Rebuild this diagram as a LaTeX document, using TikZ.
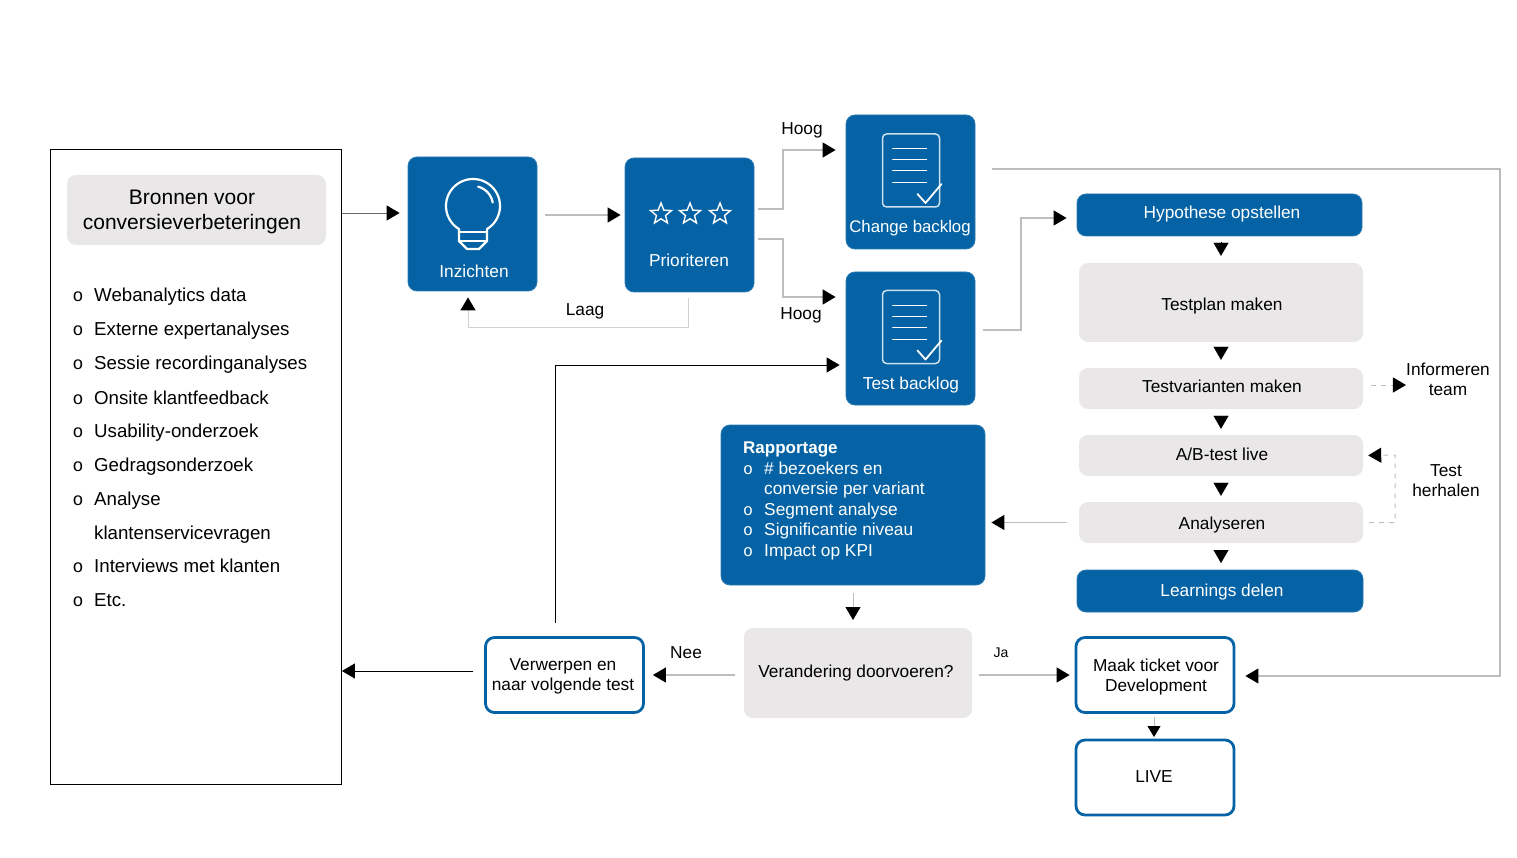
\documentclass[tikz,border=0pt]{standalone}
\usepackage{fontspec}
\setmainfont{Liberation Sans}
\newfontfamily\bulletfont{Liberation Mono}
\usetikzlibrary{arrows.meta}
\usetikzlibrary{shapes.geometric}
\definecolor{blauw}{HTML}{0563A5}
\definecolor{grijs}{HTML}{E9E7E8}
\definecolor{lijn}{HTML}{BDBDBD}
\tikzset{
    bluebox/.style={draw=blauw!85!white,fill=blauw,rounded corners=9pt,line width=0.8pt,inner sep=0pt,text=white,font=\fontsize{17.3}{20}\selectfont},
    greybox/.style={fill=grijs,rounded corners=9pt,inner sep=0pt,font=\fontsize{17.3}{20}\selectfont},
    whitebox/.style={draw=blauw,fill=white,rounded corners=9pt,line width=2.8pt,inner sep=0pt},
    plain/.style={inner sep=0pt,align=center,font=\fontsize{17.3}{20}\selectfont},
    whitetext/.style={plain,text=white},
    listitem/.style={inner sep=0pt,anchor=base west,font=\fontsize{18.7}{20}\selectfont},
    listbullet/.style={inner sep=0pt,anchor=base,font=\bulletfont\fontsize{18}{20}\selectfont},
    flow/.style={draw=lijn,line width=1.3pt,-{Triangle[length=13pt,width=15pt,color=black]}},
    blackflow/.style={draw=black,line width=0.9pt,-{Triangle[length=13pt,width=15pt]}},
    dashflow/.style={flow,dash pattern=on 5pt off 5pt},
    stub/.style={draw=black,line width=0.1pt,-{Triangle[length=13pt,width=15pt]}},
    iconline/.style={draw=white,line width=2.2pt,line cap=round,line join=round},
    docicon/.pic={
        \draw[iconline,line width=1.5pt,draw=white!80!blauw,rounded corners=4pt] (-28,-36) rectangle (29,37);
        \foreach \t in {-21,-10,1,13}
            \draw[iconline,line width=1pt] (-18,\t) -- (16,\t);
        \draw[iconline,line width=1.8pt] (7,24) -- (15,33) -- (31,14);
    },
}

\begin{document}
\begin{tikzpicture}[x=1pt,y=-1pt]
    \useasboundingbox (0,0) rectangle (1517,858);

    % bronnen
    \node[draw=black,line width=0.8pt,minimum width=291pt,minimum height=635pt,inner sep=0pt] (bronnen) at (196,467) {};
    \node[greybox,minimum width=259pt,minimum height=70pt] (bronnentitel) at (196.5,210) {};
    \node[plain,font=\fontsize{21}{25}\selectfont] (bronnentekst) at (192,212) {Bronnen voor\\conversieverbeteringen};
    \foreach \y/\t in {302/Webanalytics data,336/Externe expertanalyses,370/Sessie recordinganalyses,404/Onsite klantfeedback,437/Usability-onderzoek,471/Gedragsonderzoek,505/Analyse,572/Interviews met klanten,606/Etc.}{
        \node[listbullet] (bullet\y) at (78,\y) {o};
        \node[listitem] (item\y) at (94,\y) {\t};
    }
    \node[listitem] (item539) at (94,539) {klantenservicevragen};

    % bovenste rij
    \node[bluebox,minimum width=129pt,minimum height=134pt] (inzichten) at (472.5,224) {};
    \node[whitetext] (inzichtentekst) at (474,271) {Inzichten};
    \draw[iconline] plot[domain=121:419,samples=50] ({473+27*cos(\x)},{206+27*sin(\x)})
        -- (487,241) -- (479,249) -- (467,249) -- (459,241) -- cycle;
    \draw[iconline] (459,232) -- (487,232);
    \draw[iconline] (459,241) -- (487,241);
    \draw[iconline] plot[domain=285:350,samples=12] ({473+20*cos(\x)},{206+20*sin(\x)});

    \node[bluebox,minimum width=129pt,minimum height=134pt] (prioriteren) at (689.5,225) {};
    \node[whitetext] (prioriterentekst) at (689,260) {Prioriteren};
    \foreach \x in {661,690,720}
        \node[star,star points=5,star point ratio=2.3,draw=white,line width=1.4pt,minimum size=22pt,inner sep=0pt] (ster\x) at (\x,214) {};

    \node[bluebox,minimum width=129pt,minimum height=134pt] (change) at (910.5,182) {};
    \node[whitetext,font=\fontsize{16.8}{20}\selectfont] (changetekst) at (910,228) {Change backlog};
    \pic at (910.5,170) {docicon};

    \node[bluebox,minimum width=129pt,minimum height=133pt] (testbacklog) at (910.5,338.5) {};
    \node[whitetext] (testbacklogtekst) at (911,385) {Test backlog};
    \pic at (910.5,326.5) {docicon};

    % testproces
    \node[bluebox,minimum width=285pt,minimum height=42pt] (hypothese) at (1219.5,215) {\hspace*{5pt}\raisebox{6pt}{Hypothese opstellen}};
    \node[greybox,minimum width=284pt,minimum height=79pt] (testplan) at (1221,302.5) {\hspace*{2pt}\rule{0pt}{19pt}Testplan maken};
    \node[greybox,minimum width=284pt,minimum height=41pt] (testvarianten) at (1221,388.5) {\hspace*{2pt}\raisebox{5pt}{Testvarianten maken}};
    \node[greybox,minimum width=284pt,minimum height=41pt] (abtest) at (1221,455.5) {\hspace*{2pt}\raisebox{2pt}{A/B-test live}};
    \node[greybox,minimum width=284pt,minimum height=41pt] (analyseren) at (1221,522.5) {\hspace*{2pt}\rule{0pt}{17pt}Analyseren};
    \node[bluebox,minimum width=286pt,minimum height=42pt] (learnings) at (1220,591) {\hspace*{4pt}\rule{0pt}{15pt}Learnings delen};
    \node[plain] (informeren) at (1448,379.5) {Informeren\\team};
    \node[plain] (herhalen) at (1446,480.5) {Test\\herhalen};

    % rapportage
    \node[bluebox,minimum width=264pt,minimum height=160pt] (rapportage) at (853,505) {};
    \node[whitetext,anchor=base west,font=\fontsize{17}{20}\selectfont\bfseries] (rapportagekop) at (743,453) {Rapportage};
    \foreach \y/\t in {474/\# bezoekers en,494.5/conversie per variant,515/Segment analyse,535/Significantie niveau,556/Impact op KPI}
        \node[whitetext,anchor=base west] (regel\y) at (764,\y) {\t};
    \foreach \y in {474,515,535,556}
        \node[whitetext,anchor=base,font=\bulletfont\fontsize{16.5}{20}\selectfont] (punt\y) at (748,\y) {o};

    % onderste rij
    \node[greybox,minimum width=228pt,minimum height=90pt] (verandering) at (858,673) {\hspace*{-4pt}Verandering doorvoeren?};
    \node[whitebox,minimum width=158pt,minimum height=75pt] (verwerpen) at (564.5,675) {};
    \node[plain] (verwerpentekst) at (563,676) {Verwerpen en\\naar volgende test};
    \node[whitebox,minimum width=158pt,minimum height=75pt] (ticket) at (1155,675) {};
    \node[plain] (tickettekst) at (1156,677) {Maak ticket voor\\Development};
    \node[whitebox,minimum width=158pt,minimum height=75pt] (live) at (1155,777.5) {};
    \node[plain] (livetekst) at (1154,776.5) {LIVE};
    \node[plain] (nee) at (686,652.5) {Nee};
    \node[plain,font=\fontsize{14}{20}\selectfont] (ja) at (1001,653) {Ja};
    \node[plain] (laag) at (585,311.5) {Laag};
    \node[plain] (hoogboven) at (802,130.5) {Hoog};
    \node[plain] (hoogonder) at (801,315.5) {Hoog};

    % verbindingen
    \draw[flow,draw=black!60,line width=0.9pt,shorten >=8pt] ([yshift=254pt]bronnen.east) -- ([yshift=11pt]inzichten.west);
    \draw[flow,shorten <=8pt,shorten >=4pt] ([yshift=9pt]inzichten.east) -- ([yshift=10pt]prioriteren.west);
    \draw[flow,shorten <=4pt,shorten >=10pt,rounded corners=0pt] ([yshift=16pt]prioriteren.east) -- (783,209) -- (783,150) -- ([yshift=32pt]change.west);
    \draw[flow,shorten <=4pt,shorten >=10pt] ([yshift=-14pt]prioriteren.east) -- (783,239) -- (783,297) -- ([yshift=41.5pt]testbacklog.west);
    \draw[flow,draw=lijn!70,line width=1pt,shorten <=6pt,shorten >=6pt] ([xshift=-1.5pt]prioriteren.south) -- (688,328) -- (468,328) -- ([xshift=-4.5pt]inzichten.south);
    \draw[blackflow,shorten >=6pt] (555,623) -- (555,365) -- ([yshift=-26.5pt]testbacklog.west);
    \draw[flow,shorten <=8pt,shorten >=10pt] ([yshift=8.5pt]testbacklog.east) -- (1021,330) -- (1021,218) -- ([yshift=-3pt]hypothese.west);
    \draw[flow,line width=1.1pt,shorten <=17pt,shorten >=10pt] ([yshift=13pt]change.east) -- (1500,169) -- (1500,676) -- ([yshift=-1pt]ticket.east);

    \draw[stub,shorten <=6pt,shorten >=7pt] (1221,236) -- (testplan.north);
    \draw[stub,shorten <=5pt,shorten >=8pt] (testplan.south) -- (testvarianten.north);
    \draw[stub,shorten <=7pt,shorten >=6pt] (testvarianten.south) -- (abtest.north);
    \draw[stub,shorten <=7pt,shorten >=6pt] (abtest.south) -- (analyseren.north);
    \draw[stub,shorten <=7pt,shorten >=7pt] (analyseren.south) -- (1221,570);

    \draw[dashflow,line width=1pt,shorten <=8pt,shorten >=0pt] ([yshift=3.5pt]testvarianten.east) -- (informeren.west |- 0,385);
    \draw[dashflow,line width=1pt,shorten <=6pt,shorten >=5pt] (analyseren.east) -- (1395,522.5) -- (1395,455) -- (abtest.east);
    \draw[flow,shorten <=12pt,shorten >=6pt] (analyseren.west) -- ([yshift=-17.5pt]rapportage.east);
    \draw[flow,line width=0.8pt,shorten <=8pt,shorten >=8pt] (rapportage.south) -- (853,628);
    \draw[flow,shorten <=9pt,shorten >=8pt] ([yshift=-2pt]verandering.west) -- (verwerpen.east);
    \draw[flow,shorten <=7pt,shorten >=5pt] ([yshift=-2pt]verandering.east) -- (ticket.west);
    \draw[flow,line width=0.8pt,shorten <=4pt,shorten >=3pt,-{Triangle[length=11pt,width=13pt,color=black]}] (1154,713) -- (1154,740);
    \draw[blackflow,shorten <=11pt] ([yshift=4pt]verwerpen.west) -- ([yshift=-204pt]bronnen.east);
\end{tikzpicture}
\end{document}
